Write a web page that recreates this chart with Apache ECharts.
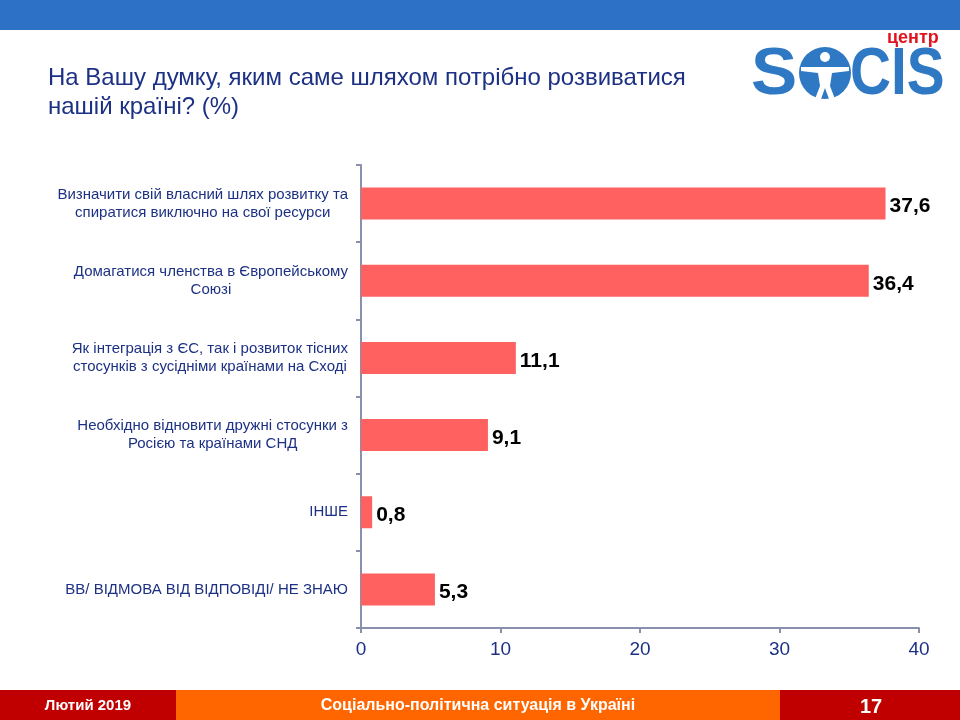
<!DOCTYPE html>
<html><head><meta charset="utf-8">
<script src="https://cdn.jsdelivr.net/npm/echarts@6/dist/echarts.min.js"></script>
<style>html,body{margin:0;padding:0;background:#fff}#c{width:960px;height:720px}</style>
</head><body><div id="c"></div>
<script>
const categories = [
  'Визначити свій власний шлях розвитку та\nспиратися виключно на свої ресурси',
  'Домагатися членства в Європейському\nСоюзі',
  'Як інтеграція з ЄС, так і розвиток тісних\nстосунків з сусідніми країнами на Сході',
  'Необхідно відновити дружні стосунки з\nРосією та країнами СНД',
  'ІНШЕ',
  'ВВ/ ВІДМОВА ВІД ВІДПОВІДІ/ НЕ ЗНАЮ'
];
const values = [37.6, 36.4, 11.1, 9.1, 0.8, 5.3];
const xTicks = [0, 10, 20, 30, 40];

const navy = '#1d3184';
const axisCol = '#8b8fae';
const chart = echarts.init(document.getElementById('c'));
chart.setOption({
  animation: false,
  backgroundColor: '#fff',
  grid: {left: 361, right: 41, top: 165, bottom: 92, containLabel: false},
  xAxis: {
    type: 'value', min: xTicks[0], max: xTicks[xTicks.length-1], interval: 10,
    splitLine: {show: false},
    axisLine: {show: true, lineStyle: {color: axisCol, width: 2}},
    axisTick: {show: true, length: 5, lineStyle: {color: axisCol, width: 2}},
    axisLabel: {color: navy, fontSize: 19, fontFamily: 'Liberation Sans', margin: 12}
  },
  yAxis: {
    type: 'category', data: categories, inverse: true,
    axisLine: {show: true, lineStyle: {color: axisCol, width: 2}},
    axisTick: {show: true, length: 5, lineStyle: {color: axisCol, width: 2}},
    axisLabel: {
      color: navy, fontSize: 15, fontFamily: 'Liberation Sans', margin: 13, lineHeight: 18,
      formatter: v => v.split('\n').map(s => '{c|' + s + '}').join('\n'),
      rich: {c: {align: 'center', color: navy, fontSize: 15, fontFamily: 'Liberation Sans', lineHeight: 18}}
    }
  },
  series: [{
    type: 'bar', data: values, barWidth: 32,
    itemStyle: {color: '#ff6161'},
    label: {show: true, position: 'right', distance: 4, color: '#000', fontWeight: 'bold',
      fontSize: 21, fontFamily: 'Liberation Sans', offset: [0, 3],
      formatter: p => p.value.toFixed(1).replace('.', ',')}
  }],
  graphic: [
    {type: 'rect', shape: {x: 0, y: 0, width: 960, height: 30}, style: {fill: '#2c71c6'}},
    {type: 'text', left: 48, top: 64, style: {text: 'На Вашу думку, яким саме шляхом потрібно розвиватися\nнашій країні? (%)', fill: navy, font: '24px "Liberation Sans"', lineHeight: 29}},
    // logo
    {type: 'text', left: 887, top: 29, style: {text: 'центр', fill: '#e0141e', font: 'bold 18px "Liberation Sans"'}},
    {type: 'text', x: 751, y: 43, scaleX: 1.05, style: {text: 'S', fill: '#2f79c4', font: 'bold 66px "Liberation Sans"'}},
    {type: 'circle', shape: {cx: 825, cy: 73, r: 26}, style: {fill: '#2f79c4'}},
    {type: 'circle', shape: {cx: 825, cy: 57, r: 5}, style: {fill: '#fff'}},
    {type: 'polygon', shape: {points: [[801,67],[849,67],[849,71],[832,73],[830,86],[835,99],[829,99],[825,88],[821,99],[815,99],[820,86],[818,73],[801,71]]}, style: {fill: '#fff'}},
    {type: 'text', x: 850, y: 43, scaleX: 0.86, style: {text: 'CIS', fill: '#2f79c4', font: 'bold 66px "Liberation Sans"'}},
    // footer
    {type: 'rect', shape: {x: 0, y: 690, width: 176, height: 30}, style: {fill: '#c00000'}},
    {type: 'rect', shape: {x: 176, y: 690, width: 604, height: 30}, style: {fill: '#ff6600'}},
    {type: 'rect', shape: {x: 780, y: 690, width: 180, height: 30}, style: {fill: '#c00000'}},
    {type: 'text', x: 88, y: 706, style: {text: 'Лютий 2019', fill: '#fff', font: 'bold 15px "Liberation Sans"', textAlign: 'center', textVerticalAlign: 'middle'}},
    {type: 'text', x: 478, y: 706, style: {text: 'Соціально-політична ситуація в Україні', fill: '#fff', font: 'bold 16px "Liberation Sans"', textAlign: 'center', textVerticalAlign: 'middle'}},
    {type: 'text', x: 871, y: 707, style: {text: '17', fill: '#fff', font: 'bold 20px "Liberation Sans"', textAlign: 'center', textVerticalAlign: 'middle'}}
  ]
});
</script></body></html>
